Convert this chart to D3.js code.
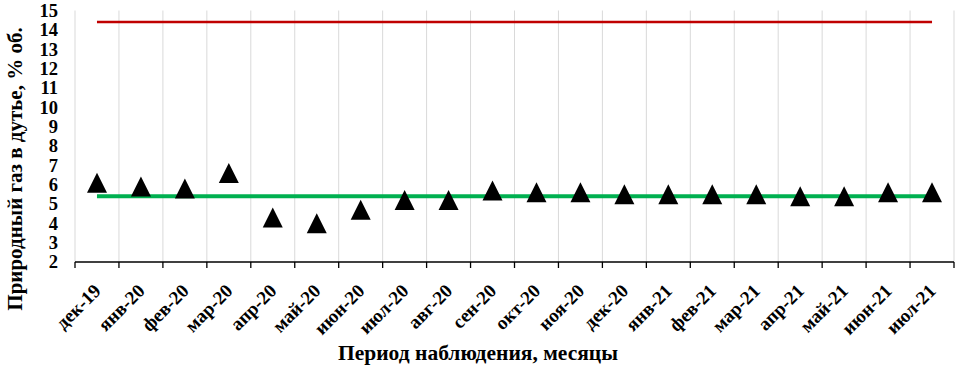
<!DOCTYPE html>
<html><head><meta charset="utf-8">
<script src="https://cdn.jsdelivr.net/npm/d3@7"></script>
<style>body{margin:0;background:#fff}svg{display:block}</style>
</head><body>
<svg id="c" width="957" height="370"></svg>
<script>
const categories = ["дек-19","янв-20","фев-20","мар-20","апр-20","май-20","июн-20","июл-20","авг-20","сен-20","окт-20","ноя-20","дек-20","янв-21","фев-21","мар-21","апр-21","май-21","июн-21","июл-21"];
const gasValues = [6.1,5.9,5.8,6.6,4.3,4.0,4.7,5.2,5.2,5.7,5.6,5.6,5.5,5.5,5.5,5.5,5.4,5.4,5.6,5.6];
const upperLimit = 14.4;
const meanLevel = 5.4;
const yTicks = [2,3,4,5,6,7,8,9,10,11,12,13,14,15];

const svg = d3.select("#c");
const L = 75, R = 954, T = 10.5, B = 262;
const x = d3.scaleBand().domain(categories).range([L, R]).padding(0);
const y = d3.scaleLinear().domain([2, 15]).range([B, T]);
const font = "'Liberation Serif','Times New Roman',serif";

// vertical gridlines at category boundaries
const bounds = categories.map(c => x(c)).concat([R]);
svg.append("g").selectAll("line").data(bounds).join("line")
  .attr("x1", d => d).attr("x2", d => d).attr("y1", T).attr("y2", B)
  .attr("stroke", "#d9d9d9").attr("stroke-width", 1);

// y axis labels
svg.append("g").selectAll("text").data(yTicks).join("text")
  .attr("x", 58).attr("y", d => y(d)).attr("dy", "0.35em")
  .attr("text-anchor", "end").attr("font-family", font).attr("font-weight", "bold")
  .attr("font-size", 18.5).text(d => d);

// x axis
const xAxis = svg.append("g");
xAxis.append("line").attr("x1", L).attr("x2", R).attr("y1", B).attr("y2", B)
  .attr("stroke", "#000").attr("stroke-width", 1.5);
xAxis.selectAll("line.t").data(bounds).join("line").attr("class","t")
  .attr("x1", d => d).attr("x2", d => d).attr("y1", B).attr("y2", B + 6)
  .attr("stroke", "#000").attr("stroke-width", 1.3);
xAxis.selectAll("text").data(categories).join("text")
  .attr("transform", d => `translate(${x(d) + x.bandwidth()/2 + 5},${B + 30}) rotate(-45)`)
  .attr("text-anchor", "end")
  .attr("font-family", font).attr("font-weight", "bold").attr("font-size", 19)
  .text(d => d);

const cx = d => x(d) + x.bandwidth()/2;
// reference lines
svg.append("line").attr("x1", cx(categories[0])).attr("x2", cx(categories[categories.length-1]))
  .attr("y1", y(upperLimit)).attr("y2", y(upperLimit)).attr("stroke", "#c00000").attr("stroke-width", 2.5);
svg.append("line").attr("x1", cx(categories[0])).attr("x2", cx(categories[categories.length-1]))
  .attr("y1", y(meanLevel)).attr("y2", y(meanLevel)).attr("stroke", "#00b050").attr("stroke-width", 4);

// markers
svg.append("g").selectAll("path").data(categories).join("path")
  .attr("transform", (d,i) => `translate(${cx(d)},${y(gasValues[i])})`)
  .attr("d", () => {
    const w = 20, h = 20;
    return `M0,${-h/2}L${w/2},${h/2}L${-w/2},${h/2}Z`;
  })
  .attr("fill", "#000");

// titles
svg.append("text").attr("transform", "translate(22,169) rotate(-90)")
  .attr("text-anchor", "middle").attr("font-family", font).attr("font-weight", "bold")
  .attr("font-size", 21).text("Природный газ в дутье, % об.");
svg.append("text").attr("x", 478).attr("y", 360)
  .attr("text-anchor", "middle").attr("font-family", font).attr("font-weight", "bold")
  .attr("font-size", 21.5).text("Период наблюдения, месяцы");
</script>
</body></html>
